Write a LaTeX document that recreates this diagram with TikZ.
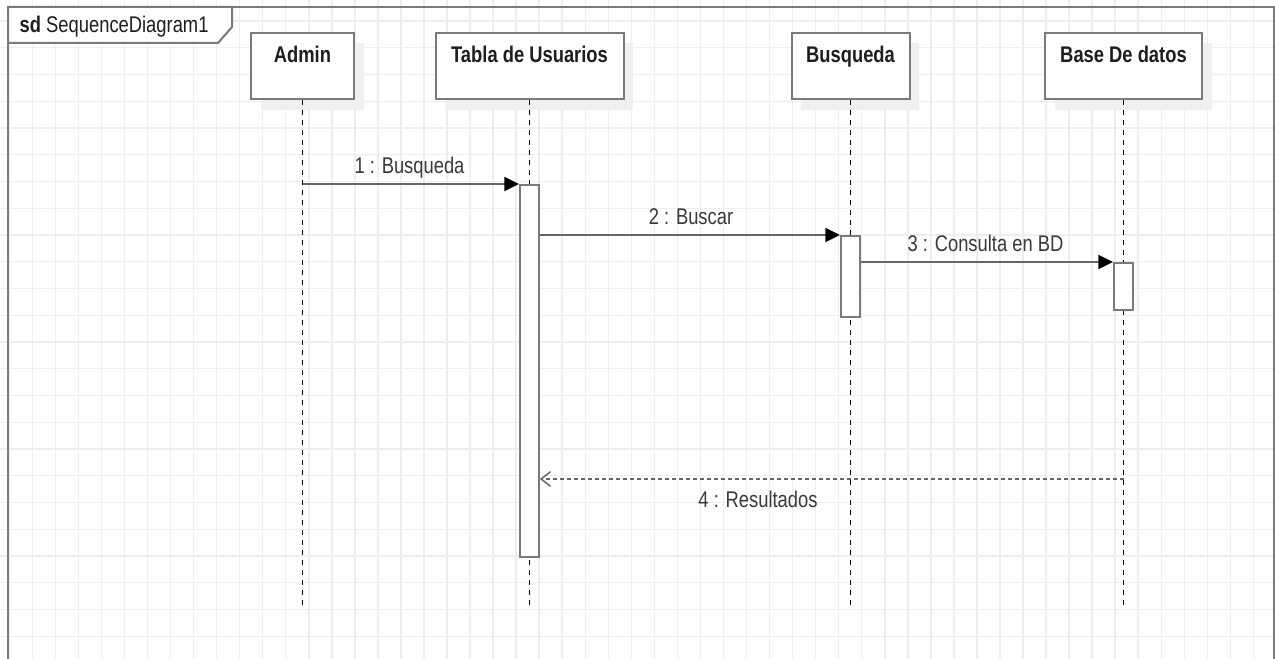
\documentclass[tikz,border=0pt]{standalone}
\usepackage{fontspec}
\setmainfont{Liberation Sans}[FakeStretch=0.81]
\usetikzlibrary{arrows.meta}
\definecolor{gridc}{HTML}{EEEEEE}
\definecolor{edgec}{HTML}{7A7A7A}
\definecolor{msgc}{HTML}{666666}
\definecolor{txtc}{HTML}{1E1E1E}
\definecolor{lblc}{HTML}{3A3A3A}
\definecolor{shadowc}{HTML}{F0F0F0}
\tikzset{
  every node/.style={font=\fontsize{17}{20}\selectfont},
  frameline/.style={draw=edgec, line width=1.5pt},
  headbox/.style={draw=edgec, line width=1.5pt, fill=white, inner xsep=0pt, inner ysep=0pt,
    text height=22.5pt, text depth=27pt, text=txtc, font=\fontsize{17}{20}\selectfont\bfseries},
  actbar/.style={draw=edgec, line width=1.5pt, fill=white, inner sep=0pt, minimum width={19*0.75pt}, anchor=north},
  lifeline/.style={draw=black, line width=1.2pt, dash pattern=on 3.75pt off 3.75pt},
  msgline/.style={draw=msgc, line width=1.6pt, -{Triangle[length=11pt,width=10.5pt,color=black,fill=black]}},
  retline/.style={draw=msgc, line width=1.9pt, dash pattern=on 3pt off 2.25pt,
    -{Straight Barb[length=7pt,width=11pt,line width=1.1pt,color=msgc]}},
  msglabel/.style={anchor=base, text=lblc},
}
\begin{document}
\begin{tikzpicture}[x=0.75pt,y=-0.75pt]
\useasboundingbox (0,0) rectangle (1275,659);
\clip (0,0) rectangle (1275,659);
\fill[white] (0,0) rectangle (1275,659);
% grid
\foreach \k in {-1,...,54} \draw[gridc, line width=1.1pt] ({32.3+23.04*\k},0) -- ({32.3+23.04*\k},659);
\foreach \k in {0,...,24} \draw[gridc, line width=1.1pt] (0,{21+26.75*\k}) -- (1275,{21+26.75*\k});
% frame
\draw[frameline] (8,700) -- (8,7) -- (1274,7) -- (1274,700);
\draw[frameline, fill=white] (8,7) -- (232,7) -- (232,27) -- (218,43) -- (8,43) -- cycle;
\node[anchor=base west, text=txtc] (sd) at (15,33) {\textbf{sd} SequenceDiagram1};
% shadows
\fill[shadowc] (261,43) rectangle (364,110);
\fill[shadowc] (445,43) rectangle (633,110);
\fill[shadowc] (801,43) rectangle (919,110);
\fill[shadowc] (1055,43) rectangle (1212,110);
% heads
\node[headbox, minimum width={103*0.75pt}] (adm) at (302.5,66) {Admin};
\node[headbox, minimum width={188*0.75pt}] (tab) at (529.5,66) {Tabla de Usuarios};
\node[headbox, minimum width={118*0.75pt}] (bus) at (850.5,66) {Busqueda};
\node[headbox, minimum width={157*0.75pt}] (bdd) at (1123.5,66) {Base De datos};
% lifeline ends
\coordinate (admE) at (302.5,607);
\coordinate (tabE) at (529.5,607);
\coordinate (busE) at (850.5,607);
\coordinate (bddE) at (1123.5,607);
\draw[lifeline] (adm.south) -- (admE);
\draw[lifeline] (tab.south) -- (tabE);
\draw[lifeline] (bus.south) -- (busE);
\draw[lifeline] (bdd.south) -- (bddE);
% activation bars
\node[actbar, minimum height={372*0.75pt}] (tb) at (529.5,184) {};
\node[actbar, minimum height={81*0.75pt}] (bb) at (850.5,235) {};
\node[actbar, minimum height={47*0.75pt}] (db) at (1123.5,262) {};
% messages
\coordinate (m1) at (302.5,184);
\draw[msgline] (m1) -- (tb.north west);
\node[msglabel] (l1) at (409.5,174) {1 : Busqueda};
\draw[msgline] (tb.east |- bb.north west) -- (bb.north west);
\node[msglabel] (l2) at (691,225) {2 : Buscar};
\draw[msgline] (bb.east |- db.north west) -- (db.north west);
\node[msglabel] (l3) at (985.5,251.5) {3 : Consulta en BD};
\coordinate (r4) at (1123.5,479);
\draw[retline] (r4) -- (tb.east |- r4);
\node[msglabel] (l4) at (758,507) {4 : Resultados};
\end{tikzpicture}
\end{document}
